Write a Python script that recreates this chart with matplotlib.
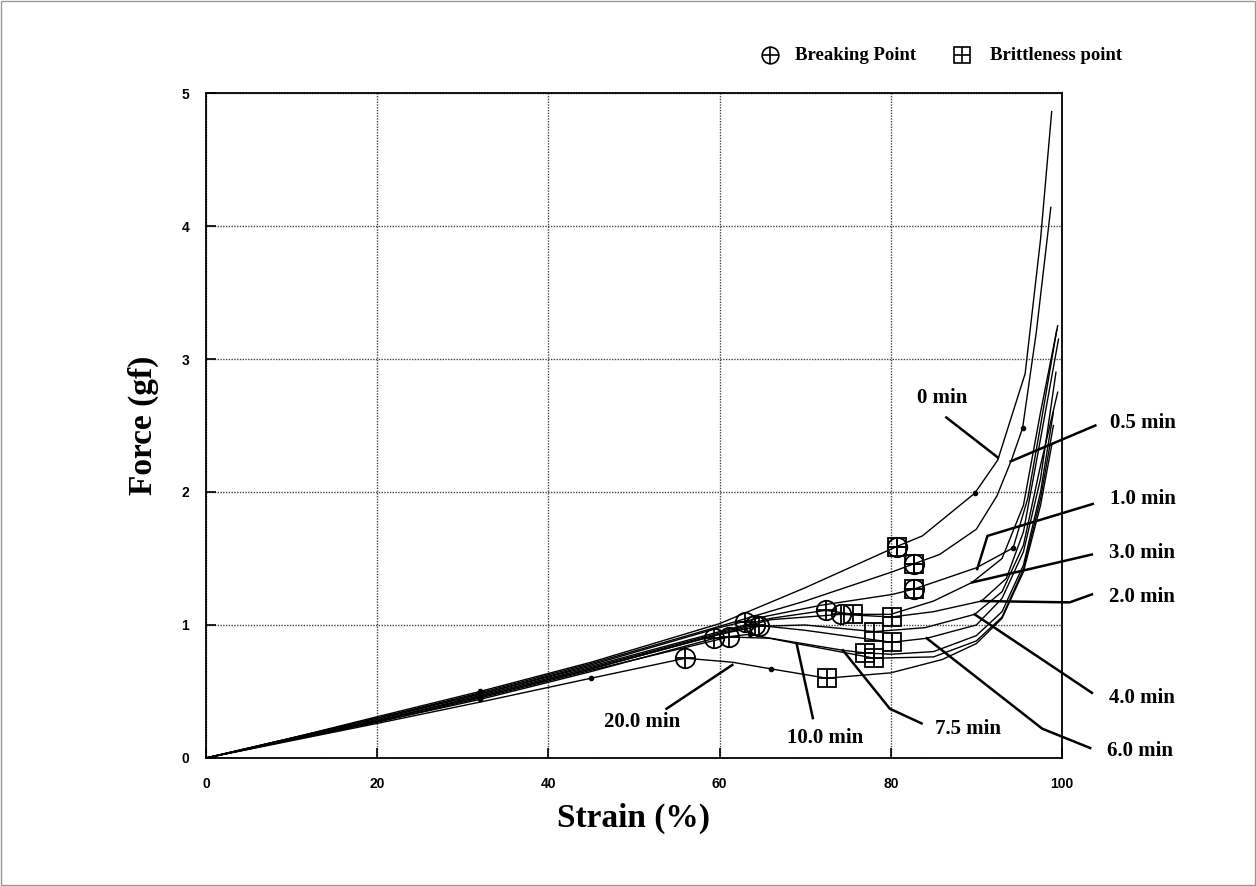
import matplotlib
matplotlib.use("Agg")
import matplotlib.pyplot as plt
from matplotlib.patches import Rectangle

# strain (%) / force (gf) curves, one per storage time
times = ["0 min", "0.5 min", "1.0 min", "3.0 min", "2.0 min", "4.0 min",
         "6.0 min", "7.5 min", "10.0 min", "20.0 min"]

x_0 = [0, 10, 20, 32, 45, 60, 70, 80.7, 83.7, 89.8, 92.5, 95.7, 97.5, 98.8]
y_0 = [0, 0.15, 0.31, 0.50, 0.72, 1.01, 1.28, 1.59, 1.67, 1.99, 2.24, 2.89, 3.90, 4.86]

x_05 = [0, 10, 20, 32, 45, 60, 70, 80.2, 82.7, 85.7, 90, 92.4, 94.1, 95.4, 97, 98.7]
y_05 = [0, 0.15, 0.30, 0.49, 0.71, 0.99, 1.18, 1.40, 1.46, 1.53, 1.72, 1.97, 2.24, 2.48, 3.2, 4.14]

x_10 = [0, 10, 20, 32, 45, 60, 65, 72, 80.2, 82.7, 85, 90, 94.3, 96, 97.5, 99.4]
y_10 = [0, 0.15, 0.30, 0.48, 0.70, 0.98, 1.06, 1.15, 1.23, 1.27, 1.32, 1.43, 1.58, 1.95, 2.5, 3.22]

x_30 = [0, 20, 32, 45, 60, 66, 72.4, 75.6, 80, 85, 89.5, 93, 95.5, 97.5, 99.5]
y_30 = [0, 0.29, 0.48, 0.69, 0.95, 1.05, 1.11, 1.08, 1.08, 1.18, 1.32, 1.50, 1.90, 2.60, 3.25]

x_20 = [0, 20, 32, 45, 60, 66, 74.2, 80.1, 85, 90.6, 93.5, 95.5, 97.5, 99.6]
y_20 = [0, 0.28, 0.47, 0.68, 0.94, 1.04, 1.08, 1.06, 1.10, 1.18, 1.35, 1.70, 2.40, 3.15]

x_40 = [0, 20, 32, 45, 60, 64.6, 70, 78.1, 84, 89.8, 93, 95.5, 97.5, 99.5]
y_40 = [0, 0.28, 0.46, 0.67, 0.93, 0.99, 1.00, 0.95, 0.98, 1.08, 1.25, 1.60, 2.20, 2.75]

x_60 = [0, 20, 32, 45, 60, 64.1, 70, 80.1, 84.2, 90, 93, 95.5, 97.5, 99.3]
y_60 = [0, 0.28, 0.46, 0.67, 0.93, 1.00, 0.96, 0.87, 0.90, 1.00, 1.20, 1.55, 2.10, 2.90]

x_75 = [0, 20, 32, 45, 61.1, 66, 74.4, 77.0, 80, 85, 90, 93, 95.5, 97.5, 99.0]
y_75 = [0, 0.27, 0.45, 0.66, 0.91, 0.90, 0.81, 0.79, 0.78, 0.80, 0.92, 1.10, 1.45, 2.00, 2.60]

x_100 = [0, 20, 32, 45, 59.4, 63.5, 69.0, 78.1, 85, 90, 93, 95.5, 97.5, 99.0]
y_100 = [0, 0.27, 0.44, 0.65, 0.90, 0.93, 0.86, 0.75, 0.76, 0.88, 1.06, 1.42, 1.95, 2.50]

x_200 = [0, 20, 32, 45, 56, 61.5, 66, 72.5, 80, 86, 90, 93, 95.5, 97.5, 98.8]
y_200 = [0, 0.26, 0.42, 0.60, 0.75, 0.72, 0.67, 0.60, 0.64, 0.74, 0.86, 1.05, 1.40, 1.90, 2.35]

curves_x = [x_0, x_05, x_10, x_30, x_20, x_40, x_60, x_75, x_100, x_200]
curves_y = [y_0, y_05, y_10, y_30, y_20, y_40, y_60, y_75, y_100, y_200]
# index of the small dot drawn on each curve
dot_idx = [[3, 9], [3, 13], [3, 12], [2], [2], [2], [2], [2], [2, 5], [3, 6]]

# breaking points (circle) and brittleness points (square)
break_x = [80.7, 82.7, 82.7, 56.0, 59.4, 61.1, 63.0, 64.1, 64.6, 72.4, 74.2]
break_y = [1.59, 1.46, 1.27, 0.75, 0.90, 0.91, 1.02, 1.00, 0.99, 1.11, 1.08]
brit_x = [80.7, 82.7, 82.7, 72.5, 75.6, 80.1, 78.1, 80.1, 77.0, 78.1]
brit_y = [1.59, 1.46, 1.27, 0.60, 1.08, 1.06, 0.95, 0.87, 0.79, 0.75]

# label text position, then leader line vertices (data units)
label_pos = [(86.0, 2.71), (109.5, 2.52), (109.5, 1.95), (109.4, 1.54), (109.4, 1.21),
             (109.4, 0.45), (109.1, 0.05), (89.0, 0.22), (72.3, 0.15), (51.0, 0.27)]
leader_x = [[86.5, 92.5], [103.9, 94.0], [103.6, 91.3, 90.1], [103.5, 89.5],
            [103.5, 100.9, 90.6], [103.5, 89.8], [103.3, 97.7, 84.2],
            [83.6, 79.9, 74.4], [70.9, 69.0], [53.8, 61.5]]
leader_y = [[2.56, 2.26], [2.50, 2.23], [1.91, 1.67, 1.42], [1.53, 1.32],
            [1.23, 1.17, 1.18], [0.49, 1.08], [0.075, 0.22, 0.90],
            [0.26, 0.37, 0.81], [0.30, 0.86], [0.37, 0.70]]

serif = "Liberation Serif"
sans = "Liberation Sans"

fig = plt.figure(figsize=(12.56, 8.86), dpi=100)
ax = fig.add_axes([0.164, 0.1445, 0.6815, 0.7505])

for cx, cy, di in zip(curves_x, curves_y, dot_idx):
    ax.plot(cx, cy, color="black", lw=1.0, marker="o", ms=3, markevery=di)

ax.plot(break_x, break_y, ls="none", marker="o", ms=14, mfc="none", mec="black", mew=1.3)
ax.plot(break_x, break_y, ls="none", marker="+", ms=14, color="black", mew=1.3)
ax.plot(brit_x, brit_y, ls="none", marker="s", ms=13.5, mfc="none", mec="black", mew=1.3)
ax.plot(brit_x, brit_y, ls="none", marker="+", ms=13.5, color="black", mew=1.3)

for name, (tx, ty), lx, ly in zip(times, label_pos, leader_x, leader_y):
    ax.text(tx, ty, name, fontsize=15, fontweight="bold", family=serif,
            ha="center", va="center")
    ax.plot(lx, ly, color="black", lw=1.8, clip_on=False)

ax.set_xlim(0, 100)
ax.set_ylim(0, 5)
ax.set_xticks([0, 20, 40, 60, 80, 100])
ax.set_yticks([0, 1, 2, 3, 4, 5])
ax.grid(True, ls=(0, (1, 1)), color="#444444", lw=1.0)
ax.tick_params(direction="in", length=7, width=1.2, pad=14, labelsize=10)
ax.tick_params(axis="y", pad=12)
for lab in ax.get_xticklabels() + ax.get_yticklabels():
    lab.set_fontweight("bold")
    lab.set_family(sans)
for sp in ax.spines.values():
    sp.set_linewidth(1.3)

ax.set_xlabel("Strain (%)", fontsize=24, fontweight="bold", family=serif, labelpad=8)
ax.set_ylabel("Force (gf)", fontsize=24, fontweight="bold", family=serif, labelpad=16)

# legend row above the plot
fig.lines.append(plt.Line2D([770 / 1256], [1 - 55 / 886], transform=fig.transFigure,
                            marker="o", ms=12, mfc="none", mec="black", mew=1.2, ls="none"))
fig.lines.append(plt.Line2D([770 / 1256], [1 - 55 / 886], transform=fig.transFigure,
                            marker="+", ms=12, color="black", mew=1.2, ls="none"))
fig.lines.append(plt.Line2D([962 / 1256], [1 - 55 / 886], transform=fig.transFigure,
                            marker="s", ms=11, mfc="none", mec="black", mew=1.2, ls="none"))
fig.lines.append(plt.Line2D([962 / 1256], [1 - 55 / 886], transform=fig.transFigure,
                            marker="+", ms=11, color="black", mew=1.2, ls="none"))
fig.text(795 / 1256, 1 - 55 / 886, "Breaking Point", fontsize=13.5, fontweight="bold",
         family=serif, va="center")
fig.text(990 / 1256, 1 - 55 / 886, "Brittleness point", fontsize=13.5, fontweight="bold",
         family=serif, va="center")

fig.patches.append(Rectangle((0.001, 0.001), 0.998, 0.998, transform=fig.transFigure,
                             fill=False, edgecolor="#999999", lw=1))

fig.savefig("out.png", dpi=100)
